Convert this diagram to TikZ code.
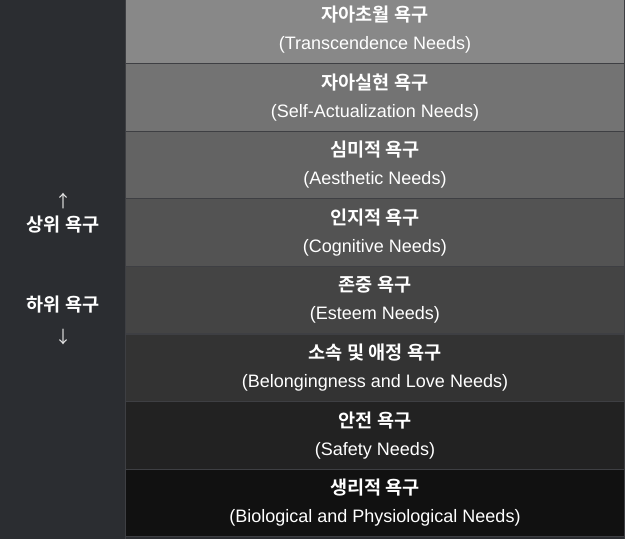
\documentclass[tikz,border=0pt]{standalone}
\usepackage{fontspec}
\setmainfont{Liberation Sans}
\newfontfamily\kr{Noto Sans CJK KR}[BoldFont={Noto Sans CJK KR Bold}]
\definecolor{bgdark}{HTML}{2B2D31}
\definecolor{sepline}{HTML}{3E3F43}
\definecolor{rowA}{HTML}{888888}
\definecolor{rowB}{HTML}{737373}
\definecolor{rowC}{HTML}{636363}
\definecolor{rowD}{HTML}{535353}
\definecolor{rowE}{HTML}{444444}
\definecolor{rowF}{HTML}{333333}
\definecolor{rowG}{HTML}{222222}
\definecolor{rowH}{HTML}{111111}
\tikzset{
  krtitle/.style={anchor=base, text=white, inner sep=0pt, font=\kr\bfseries\fontsize{18.6}{22}\selectfont},
  entitle/.style={anchor=base, text=white, inner sep=0pt, font=\fontsize{18}{22}\selectfont},
  sidearrow/.style={anchor=center, text=white!90!black, inner sep=0pt, font=\kr\fontsize{17}{20}\selectfont},
  sepstyle/.style={draw=sepline, line width=1.2pt},
}
\begin{document}
\begin{tikzpicture}[x=1pt,y=-1pt]
\useasboundingbox (0,0) rectangle (625,539);
\fill[bgdark] (0,0) rectangle (625,539);
% rows
\foreach \i/\c in {0/rowA,1/rowB,2/rowC,3/rowD,4/rowE,5/rowF,6/rowG,7/rowH}{
  \fill[\c] (126,{-4+67.6*\i}) rectangle (624,{-4+67.6*(\i+1)});
}
\foreach \i in {1,...,8}{
  \draw[sepstyle] (126,{-4+67.6*\i}) -- (624,{-4+67.6*\i});
}
\draw[sepstyle] (125.5,0) -- (125.5,539);
\draw[sepstyle] (624.5,0) -- (624.5,539);
% texts
\foreach \i/\k/\e in {
  0/자아초월 욕구/(Transcendence Needs),
  1/자아실현 욕구/(Self-Actualization Needs),
  2/심미적 욕구/(Aesthetic Needs),
  3/인지적 욕구/(Cognitive Needs),
  4/존중 욕구/(Esteem Needs),
  5/소속 및 애정 욕구/(Belongingness and Love Needs),
  6/안전 욕구/(Safety Needs),
  7/생리적 욕구/(Biological and Physiological Needs)}{
  \node[krtitle] (k\i) at (375,{-4+67.6*\i+25.5}) {\k};
  \node[entitle] (e\i) at (375,{-4+67.6*\i+53.5}) {\e};
}
% side labels
\node[sidearrow] (up) at (63,200.5) {↑};
\node[krtitle] (upper) at (63,231) {상위 욕구};
\node[krtitle] (lower) at (63,311) {하위 욕구};
\node[sidearrow] (down) at (63,337.5) {↓};
\end{tikzpicture}
\end{document}
